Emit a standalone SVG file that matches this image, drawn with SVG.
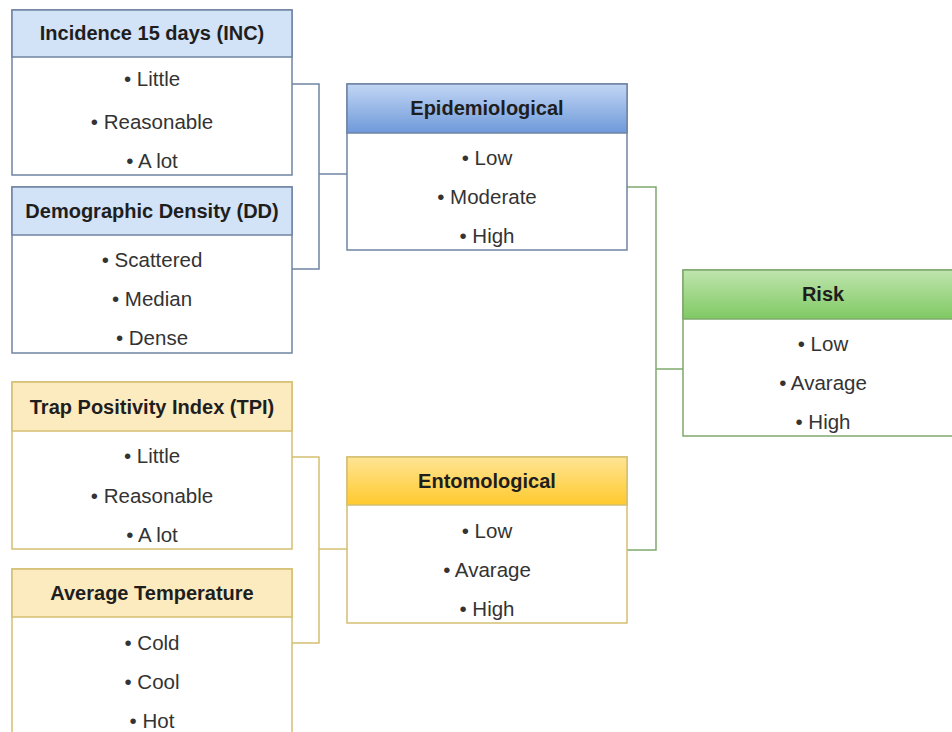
<svg xmlns="http://www.w3.org/2000/svg" width="952" height="732" viewBox="0 0 952 732">
<defs>
<linearGradient id="gBlue" x1="0" y1="0" x2="0" y2="1"><stop offset="0" stop-color="#c2d6f4"/><stop offset="1" stop-color="#6e99da"/></linearGradient>
<linearGradient id="gYel" x1="0" y1="0" x2="0" y2="1"><stop offset="0" stop-color="#ffe494"/><stop offset="1" stop-color="#ffca2e"/></linearGradient>
<linearGradient id="gGrn" x1="0" y1="0" x2="0" y2="1"><stop offset="0" stop-color="#bfe5ae"/><stop offset="1" stop-color="#80c963"/></linearGradient>
<style>
.body{fill:#ffffff;stroke-width:1.5}
.hd{stroke-width:1.5}
.b{stroke:#6f84a3}
.y{stroke:#d4bf72}
.g{stroke:#7fa86e}
.hb{fill:#d2e2f7}
.hy{fill:#fcebbf}
text{font-family:"Liberation Sans",Arial,sans-serif;fill:#1e1e1e;text-anchor:middle;dominant-baseline:central}
.t{font-size:20px;font-weight:bold}
.i{font-size:20.5px;fill:#333333}
.c{fill:none;stroke-width:1.5}
</style>
</defs>
<g id="connectors">
<polyline class="c b" points="292,84 319,84 319,269 292,269"/>
<line class="c b" x1="319" y1="174" x2="347" y2="174"/>
<polyline class="c y" points="292,457 319,457 319,643 292,643"/>
<line class="c y" x1="319" y1="549" x2="347" y2="549"/>
<polyline class="c g" points="627,187 656,187 656,550 627,550"/>
<line class="c g" x1="656" y1="369" x2="683" y2="369"/>
</g>
<g id="inc">
<rect class="body b" x="12" y="10" width="280" height="165"/>
<rect class="hd b hb" x="12" y="10" width="280" height="47"/>
<text class="t" x="152" y="33">Incidence 15 days (INC)</text>
<text class="i" x="152" y="78">• Little</text>
<text class="i" x="152" y="121">• Reasonable</text>
<text class="i" x="152" y="160">• A lot</text>
</g>
<g id="dd">
<rect class="body b" x="12" y="187" width="280" height="166"/>
<rect class="hd b hb" x="12" y="187" width="280" height="48"/>
<text class="t" x="152" y="211">Demographic Density (DD)</text>
<text class="i" x="152" y="259">• Scattered</text>
<text class="i" x="152" y="298">• Median</text>
<text class="i" x="152" y="337">• Dense</text>
</g>
<g id="epi">
<rect class="body b" x="347" y="84" width="280" height="166"/>
<rect class="hd b" fill="url(#gBlue)" x="347" y="84" width="280" height="49"/>
<text class="t" x="487" y="108">Epidemiological</text>
<text class="i" x="487" y="157">• Low</text>
<text class="i" x="487" y="196">• Moderate</text>
<text class="i" x="487" y="235">• High</text>
</g>
<g id="tpi">
<rect class="body y" x="12" y="382" width="280" height="167"/>
<rect class="hd y hy" x="12" y="382" width="280" height="49"/>
<text class="t" x="152" y="407">Trap Positivity Index (TPI)</text>
<text class="i" x="152" y="455">• Little</text>
<text class="i" x="152" y="495">• Reasonable</text>
<text class="i" x="152" y="534">• A lot</text>
</g>
<g id="temp">
<rect class="body y" x="12" y="569" width="280" height="175"/>
<rect class="hd y hy" x="12" y="569" width="280" height="48"/>
<text class="t" x="152" y="593">Average Temperature</text>
<text class="i" x="152" y="642">• Cold</text>
<text class="i" x="152" y="681">• Cool</text>
<text class="i" x="152" y="720">• Hot</text>
</g>
<g id="ento">
<rect class="body y" x="347" y="457" width="280" height="166"/>
<rect class="hd y" fill="url(#gYel)" x="347" y="457" width="280" height="48"/>
<text class="t" x="487" y="481">Entomological</text>
<text class="i" x="487" y="530">• Low</text>
<text class="i" x="487" y="569">• Avarage</text>
<text class="i" x="487" y="608">• High</text>
</g>
<g id="risk">
<rect class="body g" x="683" y="270" width="280" height="166"/>
<rect class="hd g" fill="url(#gGrn)" x="683" y="270" width="280" height="49"/>
<text class="t" x="823" y="294">Risk</text>
<text class="i" x="823" y="343">• Low</text>
<text class="i" x="823" y="382">• Avarage</text>
<text class="i" x="823" y="421">• High</text>
</g>
</svg>
